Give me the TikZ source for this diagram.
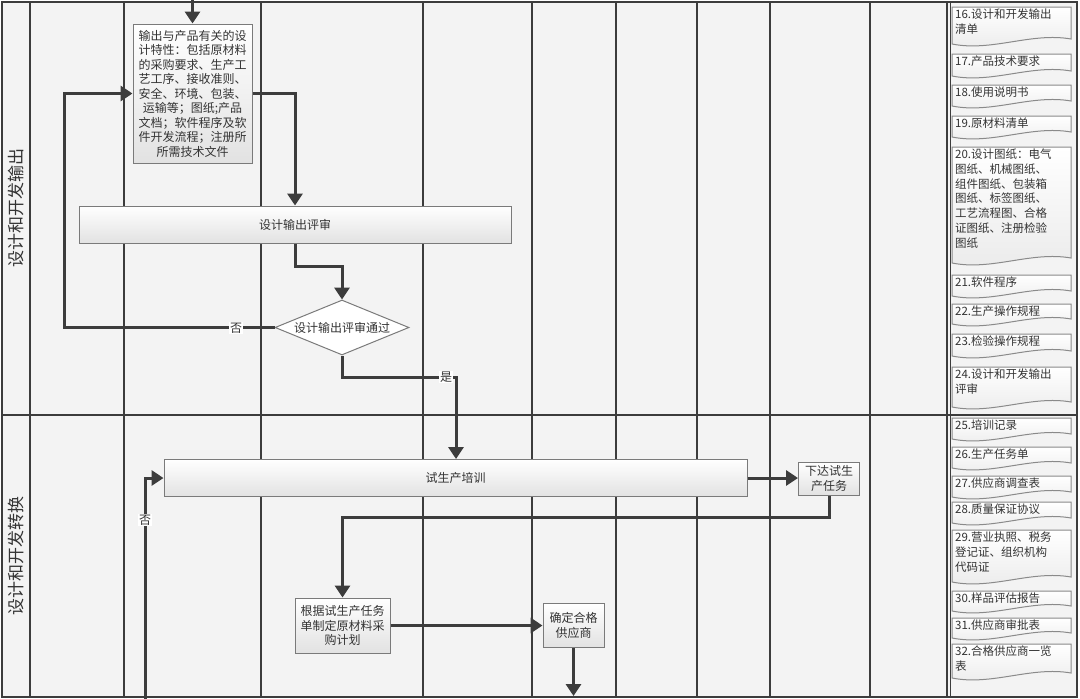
\documentclass[tikz,border=0pt]{standalone}
\usepackage{fontspec}
\setmainfont{Noto Sans CJK SC}
\usetikzlibrary{arrows.meta,shapes.geometric}
\definecolor{lanebg}{HTML}{F3F3F3}
\definecolor{linec}{HTML}{3C3C3C}
\definecolor{boxline}{HTML}{7A7A7A}
\definecolor{boxbot}{HTML}{E2E2E2}
\definecolor{docline}{HTML}{8A8A8A}
\definecolor{textc}{HTML}{333333}
\newcommand{\docsh}[4]{%
  \path[docstyle] (952,#2) -- (1071,#2) -- (1071,#3-8) .. controls (1031,#3-15) and (992,#3+5) .. (952,#3-3) -- cycle;
  \node[doctext,anchor=north west] (#1) at (954,#2+1) {#4};}
\begin{document}
\begin{tikzpicture}[x=1pt,y=-1pt,
  colline/.style={draw=linec,line width=2pt},
  conn/.style={draw=linec,line width=3pt,-{Triangle[length=12pt,width=15pt]}},
  procbox/.style={draw=boxline,line width=1pt,top color=white,bottom color=boxbot,inner sep=1pt,align=center,text=textc,font=\fontsize{12}{14.5}\selectfont},
  decision/.style={diamond,draw=boxline,line width=1pt,fill=white,inner sep=0pt,aspect=2.44,text=textc,font=\fontsize{12}{14}\selectfont},
  yesno/.style={fill=white,inner sep=1pt,text=textc,font=\fontsize{12}{12}\selectfont},
  lanetitle/.style={rotate=90,text=textc,font=\fontsize{17}{17}\selectfont},
  docstyle/.style={draw=docline,line width=1pt,top color=white,bottom color=white!92!black},
  doctext/.style={inner sep=1pt,align=left,text=textc,font=\fontsize{11.5}{14.7}\selectfont}]
\useasboundingbox (0,0) rectangle (1080,699);
% background
\fill[lanebg] (2,2) rectangle (1077,697);
% column lines
\foreach \cx in {30,124,261,423,532,616,697,770,870,947}
  \draw[colline] (\cx,2) -- (\cx,697);
\draw[linec,line width=1pt] (950,2) -- (950,697);
\draw[linec,line width=2.5pt] (2,415) -- (1077,415);
\draw[linec,line width=2.5pt] (2,2) rectangle (1077,697);
% lane titles
\node[lanetitle] (lane1) at (16,208) {设计和开发输出};
\node[lanetitle] (lane2) at (16,556) {设计和开发转换};
% process nodes
\node[procbox,minimum width=119pt,minimum height=139pt] (out) at (192.5,93.5)
  {输出与产品有关的设\\计特性：包括原材料\\的采购要求、生产工\\艺工序、接收准则、\\安全、环境、包装、\\运输等；图纸;产品\\文档；软件程序及软\\件开发流程；注册所\\所需技术文件};
\node[procbox,minimum width=432pt,minimum height=37pt] (rev) at (295,224.5) {设计输出评审};
\node[decision,minimum width=134pt,minimum height=55pt] (dia) at (342,327.5) {设计输出评审通过};
\node[procbox,minimum width=583pt,minimum height=37pt] (trn) at (455.5,478) {试生产培训};
\node[procbox,minimum width=61pt,minimum height=33pt] (task) at (829,478.5) {下达试生\\产任务};
\node[procbox,minimum width=95pt,minimum height=55pt] (plan) at (342.5,625.5) {根据试生产任务\\单制定原材料采\\购计划};
\node[procbox,minimum width=61pt,minimum height=44pt] (sup) at (573.5,625.5) {确定合格\\供应商};
% helper coordinates
\coordinate (t0) at (192.5,0);
\coordinate (k1) at (342,266);
\coordinate (k2) at (64,200);
\coordinate (k3) at (456,377);
\coordinate (k4) at (145,699);
\coordinate (k5) at (342.5,517);
\coordinate (k6) at (573.5,696);
% connectors
\draw[conn] (t0) -- (out.north);
\draw[conn] (out.east) -| (rev.north);
\draw[conn] (rev.south) |- (k1) -- (dia.north);
\draw[conn] (dia.west) -| (k2) |- (out.west);
\draw[conn] (dia.south) |- (k3) -- (k3 |- trn.north);
\draw[conn] (k4) |- (trn.west);
\draw[conn] (trn.east) -- (trn.east -| task.west);
\draw[conn] (task.south) |- (k5) -- (plan.north);
\draw[conn] (plan.east) -- (plan.east -| sup.west);
\draw[conn] (sup.south) -- (k6);
% labels
\node[yesno] (no1) at (236,328) {否};
\node[yesno] (yes1) at (446,377) {是};
\node[yesno] (no2) at (145,520) {否};
% documents
\docsh{d16}{7}{47}{16.设计和开发输出\\清单}
\docsh{d17}{54}{79}{17.产品技术要求}
\docsh{d18}{85}{109}{18.使用说明书}
\docsh{d19}{116}{140}{19.原材料清单}
\docsh{d20}{147}{266}{20.设计图纸：电气\\图纸、机械图纸、\\组件图纸、包装箱\\图纸、标签图纸、\\工艺流程图、合格\\证图纸、注册检验\\图纸}
\docsh{d21}{275}{299}{21.软件程序}
\docsh{d22}{304}{327}{22.生产操作规程}
\docsh{d23}{334}{359}{23.检验操作规程}
\docsh{d24}{367}{410}{24.设计和开发输出\\评审}
\docsh{d25}{418}{442}{25.培训记录}
\docsh{d26}{447}{471}{26.生产任务单}
\docsh{d27}{476}{500}{27.供应商调查表}
\docsh{d28}{502}{526}{28.质量保证协议}
\docsh{d29}{530}{585}{29.营业执照、税务\\登记证、组织机构\\代码证}
\docsh{d30}{591}{614}{30.样品评估报告}
\docsh{d31}{618}{641}{31.供应商审批表}
\docsh{d32}{644}{681}{32.合格供应商一览\\表}
\end{tikzpicture}
\end{document}
